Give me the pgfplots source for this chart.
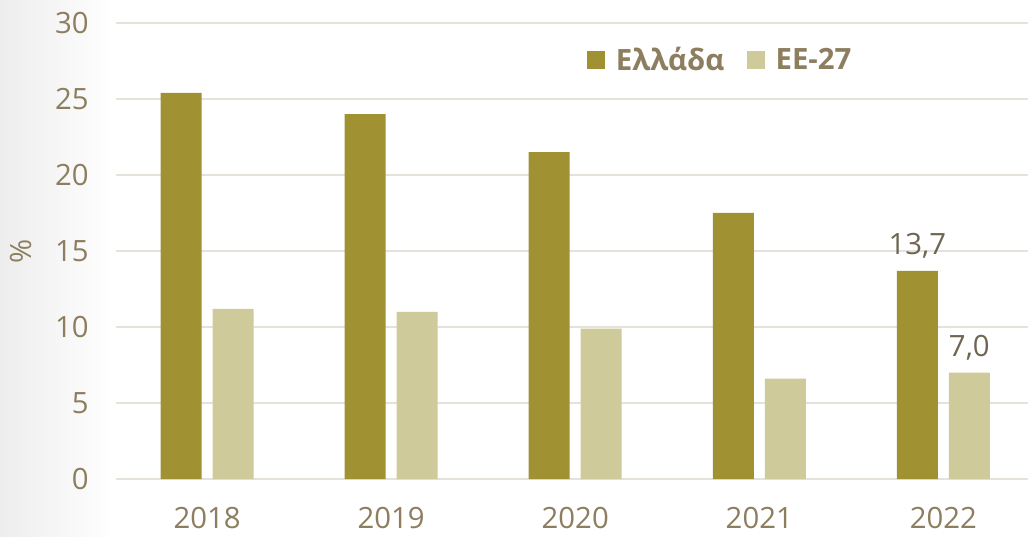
\documentclass[border=0pt]{standalone}
\usepackage{pgfplots}
\pgfplotsset{compat=1.18}
\usepackage{fontspec}
\setmainfont{Open Sans}
\definecolor{olive}{HTML}{A09133}
\definecolor{beige}{HTML}{CFCA9A}
\definecolor{ticktxt}{HTML}{8C7E5E}
\definecolor{lbltxt}{HTML}{6E6652}
\definecolor{gridc}{HTML}{E6E2DA}
\begin{document}
\begin{tikzpicture}
\shade[left color=black!7, right color=white] (-87pt,-42.75pt) rectangle (0pt,359.25pt);
\fill[white] (0pt,-42.75pt) rectangle (684pt,359.25pt);
\useasboundingbox (-87pt,-42.75pt) rectangle (684pt,359.25pt);
\begin{axis}[
  at={(0pt,0pt)}, anchor=south west,
  scale only axis, width=684pt, height=342pt,
  xmin=-0.495, xmax=4.46, ymin=0, ymax=30,
  ytick={0,5,...,30}, xtick={0,1,2,3,4},
  xticklabels={2018,2019,2020,2021,2022},
  axis line style={draw=none}, major tick length=0pt,
  ymajorgrids, grid style={gridc, line width=1.5pt},
  tick label style={font=\fontsize{22}{26}\selectfont, text=ticktxt},
  /pgf/number format/assume math mode=true,
  yticklabel style={xshift=-17pt},
  xticklabel style={yshift=-18pt},
  ylabel={\%}, ylabel style={font=\fontsize{22}{26}\selectfont, text=ticktxt, at={(axis description cs:-0.087,0.5)}},
  ybar, bar width=30.75pt,
  legend columns=2,
  legend style={draw=none, fill=none, at={(axis description cs:0.5164,0.919)}, anchor=west,
    font=\fontsize{22}{26}\selectfont\bfseries, text=ticktxt, inner sep=0pt,
    /tikz/every even column/.append style={column sep=15pt}},
  legend image code/.code={\fill[#1] (0pt,-6.75pt) rectangle (13.5pt,6.75pt);},
  legend cell align=left,
  legend style={/tikz/every odd column/.append style={column sep=6pt}},
]
\addplot[fill=olive, draw=none, bar shift=-19.5pt] coordinates {(0,25.4) (1,24.0) (2,21.5) (3,17.5) (4,13.7)};
\addplot[fill=beige, draw=none, bar shift=19.5pt] coordinates {(0,11.2) (1,11.0) (2,9.9) (3,6.6) (4,7.0)};
\addplot[fill=olive, draw=none, bar shift=-19.5pt, forget plot,
  nodes near coords, nodes near coords style={font=\fontsize{22}{26}\selectfont, text=lbltxt, anchor=south, yshift=6pt},
  /pgf/number format/.cd, fixed, fixed zerofill, precision=1, use comma] coordinates {(4,13.7)};
\addplot[fill=beige, draw=none, bar shift=19.5pt, forget plot,
  nodes near coords, nodes near coords style={font=\fontsize{22}{26}\selectfont, text=lbltxt, anchor=south, yshift=6pt},
  /pgf/number format/.cd, fixed, fixed zerofill, precision=1, use comma] coordinates {(4,7.0)};
\legend{Ελλάδα, ΕΕ-27}
\end{axis}
\end{tikzpicture}
\end{document}
